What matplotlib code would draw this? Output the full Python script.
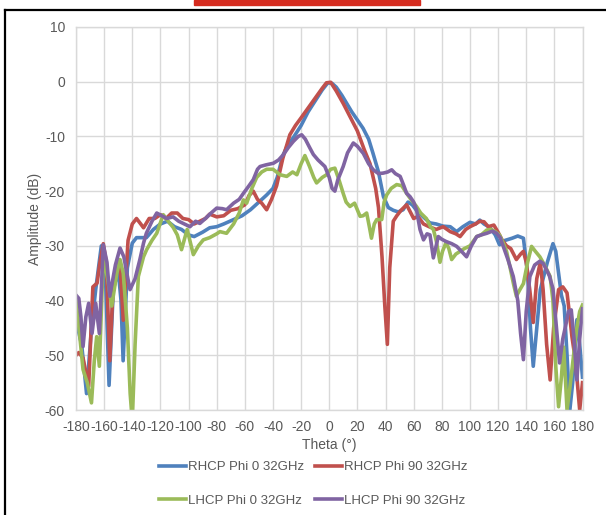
import matplotlib
matplotlib.use("Agg")
import matplotlib.pyplot as plt
from matplotlib.lines import Line2D
from matplotlib.patches import Rectangle

# RHCP Phi 0 32GHz
rhcp0_theta = [-180, -177, -176, -172.5, -169, -166, -162, -159.5, -156.5, -153.5, -150, -148, -146.5,
               -143.5, -140, -137, -130, -125, -120, -115, -110, -105, -100, -96, -90, -85, -80, -75,
               -68, -62, -56, -50, -44.5, -40, -37, -33, -30, -25, -20, -15, -10, -5, -1, 2, 5, 9,
               12.5, 16, 20, 24, 28, 31, 35, 38.5, 42, 45.5, 49, 52.5, 56, 59, 62, 66, 71.5, 76, 81,
               86, 90.5, 95, 100, 104, 107, 110, 114, 118, 121, 125, 130, 134, 138, 141, 143, 145,
               147.5, 150, 152, 155, 159, 161, 163, 165, 167, 169, 171, 173, 176, 178, 180]
rhcp0_amp = [-43.5, -47, -48, -57, -45, -38, -30, -32, -55.5, -38, -34.5, -40, -51,
             -34, -29.5, -28.5, -28.5, -27, -26, -25.5, -26.5, -27, -28, -28.3, -27.5, -26.7, -26.5, -26,
             -25.2, -24.5, -23.4, -22, -20.7, -19.5, -17.5, -13.5, -11.8, -10, -8, -5.5, -3.5, -1.5, -0.2, -0.3, -1, -2.5,
             -4, -5.5, -7, -8.5, -10.5, -13, -16.5, -21, -23, -23.5, -23.8, -23.4, -22, -22.5, -23.5, -24.5, -25.8, -26, -26.4,
             -26.5, -27.4, -26.5, -25.7, -26, -25.3, -26, -26.6, -28, -29.8, -29, -28.6, -28.2, -28.6, -35, -45, -52,
             -45, -38, -36, -33, -29.6, -31, -35, -39, -41, -50, -60, -55, -43.5, -48, -54]

# RHCP Phi 90 32GHz
rhcp90_theta = [-180, -178, -175, -171, -168, -165, -163, -160.6, -158.5, -156, -153.5, -151, -148.7, -146.4,
                -143, -140, -137, -134, -132, -128, -124, -120, -116, -112, -108, -104, -100, -96, -92,
                -88, -85, -80, -75, -70, -65, -60, -57, -54, -51, -48, -44.5, -41, -37.4, -33, -28, -24,
                -20, -15, -10, -5, -2, 1, 5, 10, 15, 20, 25, 29, 33, 35, 37.5, 39.5, 41.3, 43, 45.5,
                48, 51, 55, 58, 60, 63, 67, 71, 76, 81, 86, 90, 93, 97, 100, 104, 107, 110, 113, 117,
                120, 123, 126, 129, 133, 136, 138, 140, 142.5, 145, 147.5, 150, 152, 154.5, 157, 159.5,
                163, 166, 169, 171, 172.5, 175, 178, 180]
rhcp90_amp = [-50, -49.5, -50.5, -55.7, -37.5, -36.8, -33, -29.6, -33, -51, -36.6, -33, -33.5, -43.6,
              -29, -26, -25, -26, -26.7, -25, -25, -24.3, -25, -24, -24, -25, -25.2, -26, -25.5,
              -25, -24.2, -24.7, -24.5, -23.5, -23.2, -22.5, -20.8, -20, -21.5, -22.2, -23.4, -21.5, -19, -14, -9.7, -8,
              -6.6, -4.8, -3, -1.2, -0.2, -0.1, -1.7, -4, -6.5, -9, -12.5, -15, -19.5, -23, -32, -41, -48, -34, -25.5,
              -24.5, -23.5, -22.5, -24, -25, -24.6, -26, -26.5, -27, -26.5, -27.4, -27.8, -28.3, -27, -26.5, -26, -25.5, -25.6, -26.5, -26.2,
              -27.5, -29, -30, -30.5, -32.5, -31.5, -31, -33, -38, -44, -36, -33, -38, -48, -54.5, -45,
              -38, -37.5, -38.6, -43, -46.6, -51, -60, -55]

# LHCP Phi 0 32GHz
lhcp0_theta = [-180, -177.5, -175, -172, -169, -167, -165.3, -163.4, -160.6, -157.5, -154.6, -151, -148.7,
               -146.4, -143.5, -141.5, -140, -138, -135.7, -132, -129.8, -126, -122.6, -118, -114.5, -111,
               -108, -105, -101, -96.6, -93, -89.5, -85, -80, -77.7, -73, -68, -64, -61, -58.7, -55, -51.6,
               -48, -44.5, -40, -35, -30.2, -26, -23, -20, -17.3, -14, -11, -9, -5, -1.9, 1, 4, 7, 9.9,
               12, 14.7, 18, 21.9, 24, 26.6, 28.5, 30, 32, 33.7, 37.3, 39, 40.8, 44, 47.9, 51.5, 55, 58,
               62, 65, 69, 72, 74, 76, 78.7, 80.5, 83, 85, 87, 90, 93, 96, 100, 104.8, 108, 112, 115,
               118, 121, 123.7, 126, 128.4, 131, 133, 135.5, 138, 141, 143.8, 146.5, 149.7, 153, 157,
               159, 161, 163, 165, 166.6, 168, 169, 171, 173.8, 176, 178, 180]
lhcp0_amp = [-40, -46, -52.6, -55, -58.7, -51, -46.6, -52, -32, -36, -41, -35, -32.5,
             -35, -45, -57, -62, -48, -35.6, -32, -30.7, -29, -27.7, -24.3, -25.5, -26.6,
             -28, -30.7, -27, -31.6, -30, -28.9, -28.5, -27.8, -27.4, -27.7, -26, -24, -21.6, -22.2, -19.5, -17.5,
             -16.5, -16, -16, -17, -17.3, -16.5, -17, -15, -13.5, -15.5, -17.5, -18.5, -17.5, -17, -16, -15.8, -18, -20.4,
             -22, -22.8, -22.2, -24.6, -24.5, -24, -26.5, -28.6, -26, -25.2, -25.2, -22, -20.7, -19.5, -18.8, -19, -20.4, -21.5,
             -22.8, -24, -25, -26.5, -27, -29, -33, -31, -29.4, -30.5, -32.5, -31.5, -31, -30.5, -30, -28.3, -28, -27.1, -27,
             -27.4, -28, -29.5, -31, -33.8, -37, -39.2, -38, -36.9, -33, -30.1, -31, -32, -33.5, -35.6,
             -40, -52, -59.4, -54, -48.5, -55, -60, -56, -49.7, -45, -42, -40.8]

# LHCP Phi 90 32GHz
lhcp90_theta = [-180, -178, -176.5, -175, -173, -171, -168.6, -166, -163.4, -160.6, -158, -156, -152, -148.7,
                -146, -143.5, -141.6, -138, -134.6, -132, -130, -126, -122.6, -119, -115.6, -111, -107, -103,
                -99, -95, -92, -88, -84, -80, -76, -73, -68, -64, -61, -57, -54, -51, -49.2, -45, -39.7,
                -36, -32.5, -29, -25.5, -22, -19.6, -17, -14, -11.3, -8, -3.1, 0, 2, 4, 6, 9.9, 13, 17.1,
                20, 24.2, 28, 31.3, 35, 38.4, 41.5, 44.4, 47, 50.4, 53, 55, 57.4, 60, 62, 64.5, 67, 69.5,
                71.6, 74, 77.5, 80, 83, 87, 90.6, 94, 97.6, 101, 104.8, 108, 112, 116, 119, 121.5, 123.7,
                127, 130.8, 134, 136, 138, 140, 142.6, 146, 149.7, 152, 154.3, 156.5, 159, 161.5, 163.7,
                166, 168.5, 170, 172, 174, 176, 178, 180]
lhcp90_amp = [-39, -39.6, -43, -48.4, -43, -40.5, -46, -40.5, -46, -29.8, -33, -39.2, -33.5, -30.4,
              -32, -35.5, -38, -36, -32.5, -29.5, -27.7, -25.5, -24, -24.5, -25, -24.7, -25.5, -26,
              -26.5, -25.5, -25.9, -25, -24, -23.1, -23.2, -23.4, -22.2, -21.5, -20.4, -19, -17.9, -16, -15.5, -15.2, -14.9,
              -14.3, -13.3, -12, -10.9, -10, -9.7, -10.5, -12, -13.3, -14.3, -15.5, -17.5, -19.5, -20, -18, -15.5, -13, -11.2,
              -11.8, -13.1, -15, -16.1, -16.8, -16.7, -16.5, -16.1, -16.8, -17.3, -19, -20.4, -21, -22, -23.4, -27, -28.9, -27.8,
              -28, -32.2, -28.3, -28.8, -29.2, -29.6, -30.1, -31, -32, -30, -28.3, -28, -27.7, -27.3, -27.7, -28.5, -30.1,
              -32.5, -35.6, -40, -46, -50.8, -42, -35.6, -33.5, -32.8, -33.2, -34.3, -35.5, -37.8, -45, -51.4,
              -47, -44, -42, -41.7, -47, -54.5, -47, -41.5]

series = [
    ("RHCP Phi 0 32GHz", rhcp0_theta, rhcp0_amp, "#4F81BD"),
    ("RHCP Phi 90 32GHz", rhcp90_theta, rhcp90_amp, "#C0504D"),
    ("LHCP Phi 0 32GHz", lhcp0_theta, lhcp0_amp, "#9BBB59"),
    ("LHCP Phi 90 32GHz", lhcp90_theta, lhcp90_amp, "#8064A2"),
]

x_ticks = list(range(-180, 181, 20))
y_ticks = list(range(-60, 11, 10))

plt.rcParams['font.family'] = ['Liberation Sans', 'DejaVu Sans']
plt.rcParams['axes.unicode_minus'] = False

fig = plt.figure(figsize=(6.06, 5.15), dpi=100)
ax = fig.add_axes([76 / 606, 1 - 410 / 515, 506.5 / 606, 383 / 515])

lines = []
for name, th, amp, col in series:
    ln, = ax.plot(th, amp, color=col, lw=2.6, label=name, solid_joinstyle='round')
    lines.append(ln)

ax.set_xlim(-180, 180)
ax.set_ylim(-60, 10)
ax.set_xticks(x_ticks)
ax.set_yticks(y_ticks)
ax.grid(True, color="#D9D9D9", lw=1)
ax.set_axisbelow(True)
for s in ax.spines.values():
    s.set_color("#D9D9D9")
    s.set_linewidth(1)
ax.tick_params(length=0, labelsize=10, labelcolor="#595959")
ax.tick_params(axis='x', pad=7)
ax.tick_params(axis='y', pad=8)
ax.set_xlabel("Theta (°)", fontsize=10, color="#595959", labelpad=3)
ax.set_ylabel("Amplitude (dB)", fontsize=10, color="#595959", labelpad=2)

# ncol=2 fills column by column, so order gives rows: RHCP0 RHCP90 / LHCP0 LHCP90
order = [0, 2, 1, 3]
fig.legend([lines[i] for i in order], [series[i][0] for i in order], loc='center',
           bbox_to_anchor=(313 / 606, 1 - 484 / 515), ncol=2,
           frameon=False, fontsize=9.5, labelcolor="#595959", handlelength=2.05,
           handletextpad=0.15, columnspacing=0.8, labelspacing=1.6)

# chart frame and top bar
fig.add_artist(Line2D([5 / 606, 5 / 606], [0, 1 - 10 / 515], color="black", lw=1.6, transform=fig.transFigure))
fig.add_artist(Line2D([5 / 606, 1], [1 - 10 / 515, 1 - 10 / 515], color="black", lw=1.6, transform=fig.transFigure))
fig.add_artist(Rectangle((194 / 606, 1 - 5 / 515), 226 / 606, 5 / 515, color="#D52B1E", transform=fig.transFigure))

fig.savefig("out.png", dpi=100)
